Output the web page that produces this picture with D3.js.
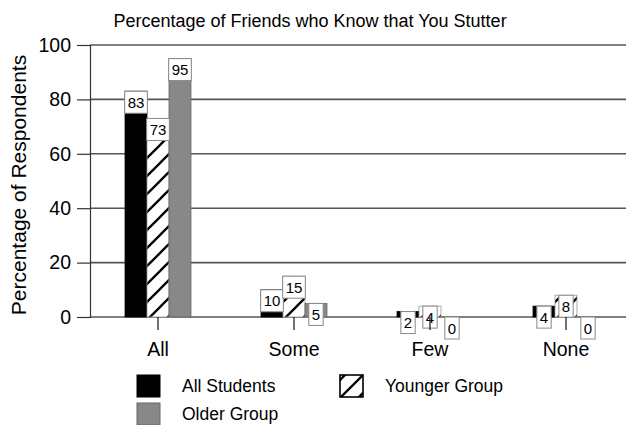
<!DOCTYPE html>
<html>
<head>
<meta charset="utf-8">
<script src="https://cdn.jsdelivr.net/npm/d3@7"></script>
<style>
  html, body { margin: 0; padding: 0; background: #fff; }
  svg { display: block; font-family: "Liberation Sans", Arial, Helvetica, sans-serif; }
</style>
</head>
<body>
<svg id="chart" width="626" height="425"></svg>
<script>
// Survey responses, percent of respondents per answer
const categories = ["All", "Some", "Few", "None"];
const seriesNames = ["All Students", "Younger Group", "Older Group"];
const allStudents = [83, 10, 2, 4];
const youngerGroup = [73, 15, 4, 8];
const olderGroup = [95, 5, 0, 0];
const yTicks = [0, 20, 40, 60, 80, 100];
const titleText = "Percentage of Friends who Know that You Stutter";
const yLabelText = "Percentage of Respondents";

const seriesValues = [allStudents, youngerGroup, olderGroup];

const svg = d3.select("#chart");
const W = 626, H = 425;
const plotLeft = 90, plotTop = 45, plotBottom = 317, plotRight = 626;

svg.append("rect").attr("width", W).attr("height", H).attr("fill", "#fff");

// diagonal hatch used by the Younger Group
const defs = svg.append("defs");
const pat = defs.append("pattern")
  .attr("id", "hatch")
  .attr("patternUnits", "userSpaceOnUse")
  .attr("width", 18).attr("height", 18);
pat.append("rect").attr("width", 18).attr("height", 18).attr("fill", "#fff");
pat.append("path")
  .attr("d", "M-2,20 L20,-2 M-4,4 L4,-4 M14,22 L22,14")
  .attr("stroke", "#000").attr("stroke-width", 2.3);

const fills = ["#000", "url(#hatch)", "#888"];
const strokes = ["#000", "#999", "#666"];

const y = d3.scaleLinear().domain([0, 100]).range([plotBottom, plotTop]);
const x0 = d3.scaleBand().domain(categories).range([plotLeft, 634])
  .paddingInner(0.515).paddingOuter(0.2575);
const x1 = d3.scaleBand().domain(seriesNames).range([0, x0.bandwidth()]);

// horizontal grid lines
svg.append("g").selectAll("line").data(yTicks).join("line")
  .attr("x1", plotLeft).attr("x2", plotRight)
  .attr("y1", d => y(d)).attr("y2", d => y(d))
  .attr("stroke", "#555").attr("stroke-width", 1.6);

// y axis
const yAxis = svg.append("g").attr("transform", `translate(${plotLeft},0)`)
  .call(d3.axisLeft(y).tickValues(yTicks).tickSize(13).tickPadding(6));
yAxis.select(".domain").attr("stroke", "#333").attr("stroke-width", 1.2);
yAxis.selectAll(".tick line").attr("stroke", "#333").attr("stroke-width", 1.2);
yAxis.selectAll(".tick text").attr("font-size", "19.5px").attr("fill", "#000")
  .attr("font-family", "Liberation Sans, Arial, sans-serif");

// bars
const groups = svg.append("g").selectAll("g").data(categories).join("g")
  .attr("transform", c => `translate(${x0(c)},0)`);

const barData = (c, ci) => seriesNames.map((s, si) => ({ s, si, v: seriesValues[si][ci] }));

groups.each(function (c, ci) {
  const g = d3.select(this);
  g.selectAll("rect.bar").data(barData(c, ci)).join("rect")
    .attr("class", "bar")
    .attr("x", d => x1(d.s))
    .attr("width", x1.bandwidth())
    .attr("y", d => y(d.v))
    .attr("height", d => y(0) - y(d.v))
    .attr("fill", d => fills[d.si])
    .attr("stroke", d => d.v > 0 ? strokes[d.si] : "none")
    .attr("stroke-width", 0.8);
});

// value boxes hung from the top of each bar
groups.each(function (c, ci) {
  const g = d3.select(this);
  barData(c, ci).forEach(d => {
    const cx = x1(d.s) + x1.bandwidth() / 2;
    const lab = g.append("g");
    const box = lab.append("rect");
    const t = lab.append("text")
      .attr("x", cx).attr("y", y(d.v) + 16.5)
      .attr("text-anchor", "middle")
      .attr("font-size", "15px")
      .attr("fill", "#000")
      .text(d.v);
    const w = t.node().getComputedTextLength() + 6;
    box.attr("x", cx - w / 2).attr("y", y(d.v))
      .attr("width", w).attr("height", 22)
      .attr("fill", "#fff").attr("stroke", "#888").attr("stroke-width", 1);
  });
});

// category axis
const xAxis = svg.append("g").attr("transform", `translate(0,${plotBottom})`)
  .call(d3.axisBottom(x0).tickSize(13).tickPadding(12));
xAxis.select(".domain").remove();
xAxis.selectAll(".tick line").attr("stroke", "#111").attr("stroke-width", 1.2);
xAxis.selectAll(".tick text").attr("font-size", "19.5px").attr("fill", "#000")
  .attr("font-family", "Liberation Sans, Arial, sans-serif");

// title
svg.append("text")
  .attr("x", 310).attr("y", 27)
  .attr("text-anchor", "middle")
  .attr("font-size", "18px")
  .attr("fill", "#000")
  .text(titleText);

// y axis label
svg.append("text")
  .attr("transform", "translate(26,185) rotate(-90)")
  .attr("text-anchor", "middle")
  .attr("font-size", "21px")
  .attr("fill", "#000")
  .text(yLabelText);

// legend
const legendItems = [
  { name: seriesNames[0], si: 0, x: 137, y: 375 },
  { name: seriesNames[1], si: 1, x: 340, y: 375 },
  { name: seriesNames[2], si: 2, x: 137, y: 403 }
];
const lg = svg.append("g").selectAll("g").data(legendItems).join("g");
lg.append("rect")
  .attr("x", d => d.x).attr("y", d => d.y)
  .attr("width", 23).attr("height", 22)
  .attr("fill", d => fills[d.si])
  .attr("stroke", d => d.si === 1 ? "#000" : strokes[d.si])
  .attr("stroke-width", d => d.si === 1 ? 1.6 : 1);
lg.append("text")
  .attr("x", d => d.x + 45).attr("y", d => d.y + 17)
  .attr("font-size", "17.5px")
  .attr("fill", "#000")
  .text(d => d.name);
</script>
</body>
</html>
